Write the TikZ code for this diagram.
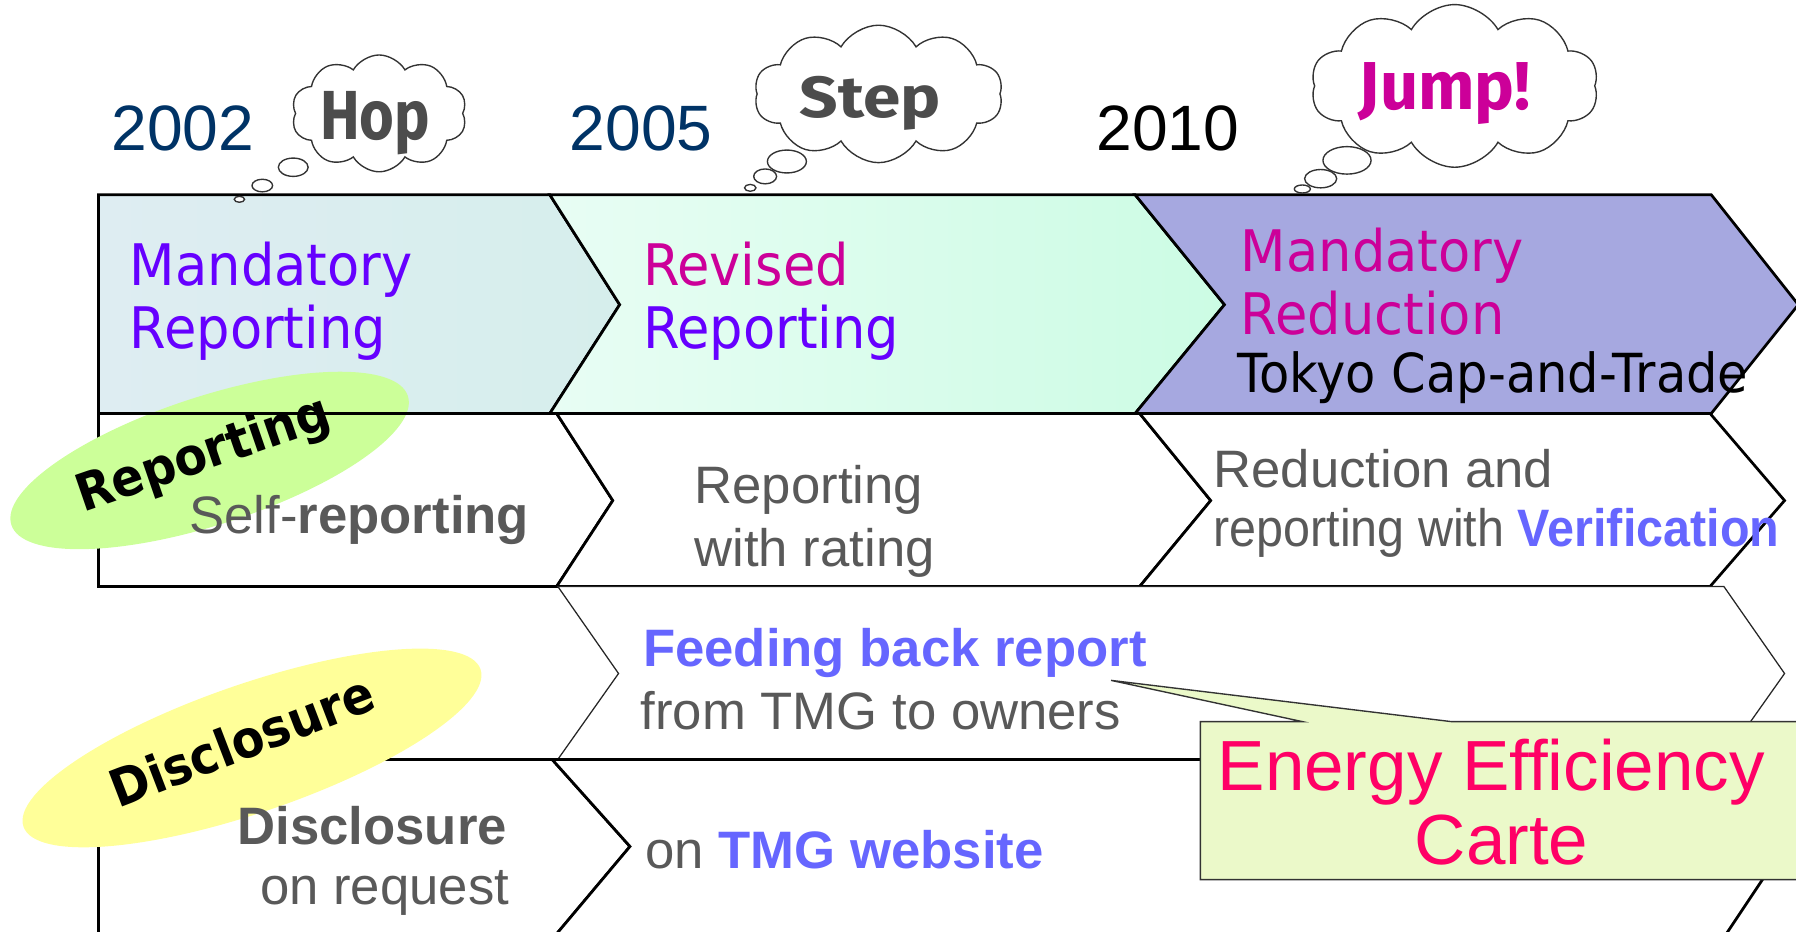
\documentclass[tikz,border=0pt]{standalone}
\usepackage{fontspec}
\setmainfont{Liberation Sans}
\newfontfamily\arlc[FakeStretch=0.92]{Liberation Sans}
\newfontfamily\verd[FakeStretch=0.92]{DejaVu Sans}
\newfontfamily\comic{Fira Sans}
\usetikzlibrary{shapes.geometric,shapes.symbols}
\definecolor{navy}{RGB}{0,51,102}
\definecolor{purp}{RGB}{102,0,255}
\definecolor{mag}{RGB}{204,0,153}
\definecolor{gtext}{RGB}{89,89,89}
\definecolor{bluet}{RGB}{102,102,255}
\definecolor{hot}{RGB}{255,0,102}
\definecolor{bAl}{RGB}{222,237,242}
\definecolor{bAr}{RGB}{214,238,236}
\definecolor{bBl}{RGB}{232,253,244}
\definecolor{bBr}{RGB}{204,252,228}
\definecolor{bC}{RGB}{166,168,224}
\definecolor{elG}{RGB}{204,255,153}
\definecolor{elY}{RGB}{255,255,153}
\definecolor{carte}{RGB}{235,249,201}
\definecolor{cloudline}{RGB}{51,51,51}
\begin{document}
\begin{tikzpicture}[x=0.5pt,y=-0.5pt,
  thickrow/.style={draw=black,line width=1.2pt,line join=miter},
  thinrow/.style={draw=black!85,line width=0.55pt},
  cloudy/.style={cloud,cloud puffs=10,cloud puff arc=120,cloud ignores aspect,draw=cloudline,fill=white,line width=0.6pt,inner sep=0pt},
  bubble/.style={ellipse,draw=cloudline,fill=white,line width=0.6pt,inner sep=0pt},
  txt/.style={anchor=base west,inner sep=0pt},
  arl/.style={txt,font=\fontsize{23pt}{27pt}\selectfont,text=gtext},
  verdl/.style={txt,font=\verd\fontsize{25pt}{30pt}\selectfont},
  yr/.style={txt,font=\fontsize{28pt}{33pt}\selectfont},
  ellbl/.style={anchor=base,inner sep=0pt,font=\verd\bfseries\fontsize{22.5pt}{27pt}\selectfont,text=black},
  carttxt/.style={anchor=base,inner sep=0pt,font=\fontsize{31pt}{37pt}\selectfont,text=hot}]
\useasboundingbox (0,0) rectangle (1568,813);
\clip (0,0) rectangle (1568,813);

% top band
\path[thickrow,left color=bAl,right color=bAr] (86,170) -- (480,170) -- (541,266) -- (480,361) -- (86,361) -- cycle;
\path[thickrow,left color=bBl,right color=bBr] (480,170) -- (991,170) -- (1069,266) -- (991,361) -- (480,361) -- (541,266) -- cycle;
\path[thickrow,fill=bC] (991,170) -- (1494,170) -- (1570,266) -- (1494,361) -- (991,361) -- (1069,266) -- cycle;

% row 2
\path[thickrow,fill=white] (86,361) -- (486,361) -- (535,437) -- (486,512) -- (86,512) -- cycle;
\path[thickrow,fill=white] (486,361) -- (995,361) -- (1057,437) -- (995,512) -- (486,512) -- (535,437) -- cycle;
\path[thickrow,fill=white] (995,361) -- (1493,361) -- (1558,437) -- (1493,512) -- (995,512) -- (1057,437) -- cycle;

% row 3
\path[thinrow,fill=white] (487,512) -- (1505,512) -- (1558,588) -- (1505,663) -- (487,663) -- (540,588) -- cycle;

% row 4
\path[thickrow,fill=white] (86,663) -- (482,663) -- (550,739) -- (482,820) -- (86,820) -- cycle;
\path[thickrow,fill=white] (482,663) -- (1504,663) -- (1558,739) -- (1504,820) -- (482,820) -- (550,739) -- cycle;

% ellipses
\node[ellipse,fill=elG,minimum width=182pt,minimum height=56pt,inner sep=0pt,rotate=18] (ellR) at (183,402) {};
\draw[line width=1.2pt] (86,361) -- (480,361);
\node[ellipse,fill=elY,minimum width=211pt,minimum height=56pt,inner sep=0pt,rotate=19] (ellD) at (220,653) {};

% callout
\path[draw=cloudline,line width=0.6pt,fill=carte] (1048,630) -- (1137,630) -- (970,594) -- (1267,630) -- (1590,630) -- (1590,768) -- (1048,768) -- cycle;

% clouds
\node[cloudy,minimum width=76.5pt,minimum height=51pt] (cH) at (331,99) {};
\node[cloudy,minimum width=108.5pt,minimum height=60pt] (cS) at (767,82) {};
\node[cloudy,minimum width=125.5pt,minimum height=71pt] (cJ) at (1270,75) {};
\node[bubble,minimum width=13pt,minimum height=8pt] (bH1) at (256,146) {};
\node[bubble,minimum width=9pt,minimum height=5.5pt] (bH2) at (229,162) {};
\node[bubble,minimum width=4.5pt,minimum height=2.6pt] (bH3) at (209,174) {};
\node[bubble,minimum width=17pt,minimum height=10pt] (bS1) at (687,141) {};
\node[bubble,minimum width=10pt,minimum height=6.5pt] (bS2) at (668,154) {};
\node[bubble,minimum width=5pt,minimum height=3pt] (bS3) at (655,164) {};
\node[bubble,minimum width=21pt,minimum height=12pt] (bJ1) at (1176,140) {};
\node[bubble,minimum width=14pt,minimum height=8pt] (bJ2) at (1153,156) {};
\node[bubble,minimum width=7pt,minimum height=3.5pt] (bJ3) at (1137,165) {};

% cloud texts
\node[txt,text=black!70] (tHop) at (279,122) {\resizebox{48pt}{21pt}{\comic\bfseries Hop}};
\node[txt,text=black!70] (tStep) at (698,103) {\resizebox{61.5pt}{18pt}{\comic\bfseries Step}};
\node[txt,text=mag] (tJump) at (1186,96) {\resizebox{75pt}{20.5pt}{\comic\bfseries Jump!}};

% years
\node[yr,text=navy] (y1) at (97,131) {2002};
\node[yr,text=navy] (y2) at (497,131) {2005};
\node[yr,text=black] (y3) at (957,131) {2010};

% band labels
\node[verdl,text=purp] (m1a) at (113,249) {Mandatory};
\node[verdl,text=purp] (m1b) at (113,304) {Reporting};
\node[verdl,text=mag] (m2a) at (561,249) {Revised};
\node[verdl,text=purp] (m2b) at (561,304) {Reporting};
\node[verdl,text=mag] (m3a) at (1083,237) {Mandatory};
\node[verdl,text=mag] (m3b) at (1083,292) {Reduction};
\node[txt,font=\verd\fontsize{23.5pt}{28pt}\selectfont,text=black] (m3c) at (1080,343) {Tokyo Cap-and-Trade};

% ellipse labels
\node[ellbl,rotate=19] (lR) at (182,410) {Reporting};
\node[ellbl,rotate=21] (lD) at (217,662) {Disclosure};

% row 2
\node[arl] (r2a) at (165,466) {Self-\textbf{reporting}};
\node[arl] (r2b) at (606,440) {Reporting};
\node[arl] (r2c) at (606,495) {with rating};
\node[arl] (r2d) at (1059,426) {Reduction and};
\node[arl,font=\arlc\fontsize{23pt}{27pt}\selectfont] (r2e) at (1059,477) {reporting with \textcolor{bluet}{\textbf{Verification}}};

% row 3
\node[arl,text=bluet,font=\bfseries\fontsize{23pt}{27pt}\selectfont] (r3a) at (561,582) {Feeding back report};
\node[arl] (r3b) at (559,637) {from TMG to owners};

% row 4
\node[arl,font=\bfseries\fontsize{23pt}{27pt}\selectfont] (r4a) at (207,737) {Disclosure};
\node[arl,anchor=base east] (r4b) at (445,790) {on request};
\node[arl] (r4c) at (563,758) {on \textcolor{bluet}{\textbf{TMG website}}};

% callout text
\node[carttxt] (ee1) at (1302,690) {Energy Efficiency};
\node[carttxt] (ee2) at (1311,755) {Carte};
\end{tikzpicture}
\end{document}
